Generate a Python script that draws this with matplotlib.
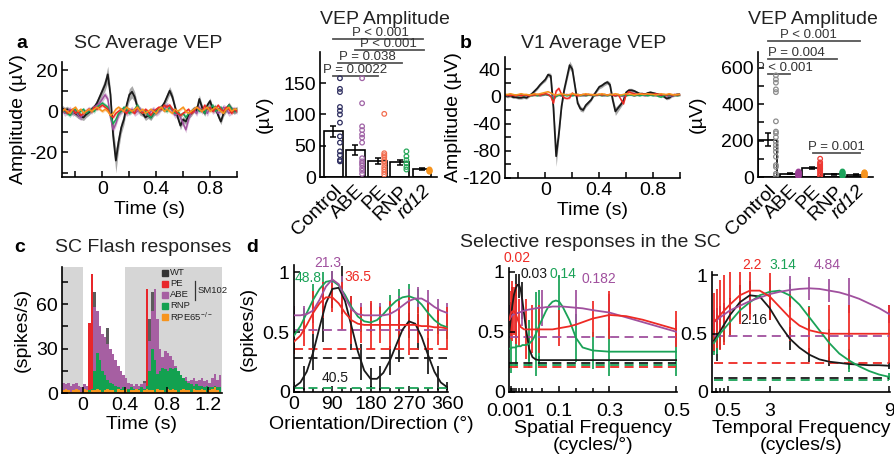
import numpy as np
import matplotlib.pyplot as plt

plt.rcParams['font.family'] = ['Liberation Sans', 'DejaVu Sans']
plt.rcParams['mathtext.fontset'] = 'custom'
plt.rcParams['mathtext.rm'] = 'Liberation Sans'
plt.rcParams['axes.unicode_minus'] = False

BLACK = '#1a1a1a'
PURPLE = '#a0509e'
RED = '#ee2a24'
GREEN = '#1aa257'
ORANGE = '#f7941d'
SIG = '#555555'

# a / b: average VEP traces (uV), one value every 20 ms from -0.3 s to 1.0 s
vep_t = np.round(np.arange(-0.3, 1.0001, 0.02), 2)

sc_black = [1.5, 0.5, 1, -0.5, 0, -1, -2, -2.5, -3, -1.5, -0.5,
            1, 2, 4, 7, 10, 13, 18, 8, -12, -24, -15,
            -8, -4, 3, 8, 9.5, 7, 2, 0, -1, -3, -2,
            -3, -1, 0, 1, 2, 4, 7, 10, 7, 2, -3,
            -7, -4, -5, -2, -1, 1, 0, 6, 2, -1, 3,
            5, 1, 2, -2, -5, -1, 1, 3, 1, 0, 1]
sc_black_sem = [1.5, 1.5, 1.5, 1.5, 1.5, 1.5, 1.5, 1.5, 1.5, 1.5, 1.5,
                1.5, 1.5, 2, 2, 2.5, 3, 4, 3, 4, 6, 4,
                3, 2.5, 2.5, 3, 3, 2.5, 2, 2, 1.5, 1.5, 1.5,
                1.5, 1.5, 1.5, 1.5, 1.5, 1.5, 2, 2, 2, 1.5, 1.5,
                2, 1.5, 1.5, 1.5, 1.5, 1.5, 1.5, 2, 1.5, 1.5, 1.5,
                1.5, 1.5, 1.5, 1.5, 1.5, 1.5, 1.5, 1.5, 1.5, 1.5, 1.5]
sc_purple = [1, -1, 0, 1, -1, 0, -2, -3, -1, 0, 1,
             0, 2, 3, 4, 6, 8, 6, -3, -9, -6, -2,
             0, 1, -1, 0, 1, -1, 0, 1, -1, 0, -2,
             0, 1, -1, 0, 2, 1, 3, 2, 0, -2, -1,
             -3, -6, -9, -4, 0, 1, -1, 2, 0, 1, -1,
             2, 0, 1, -1, 0, 2, 1, -1, 0, 1, 0]
sc_green = [1, 0, -1, -2, 0, 1, -1, 0, 1, -1, 0,
            1, 0, 2, 3, 4, 3, 2, -2, -6, -4, -1,
            0, 2, 1, -1, 0, 1, 3, 0, -1, 0, -2,
            -3, -1, 0, 1, 2, 1, 0, 2, 1, -1, 0,
            -2, -1, -3, -1, 0, 1, 2, 0, 1, -1, 2,
            1, 3, 0, 1, 2, 0, 1, 3, 1, 0, 1]
sc_red = [0, 1, -1, 0, 1, -1, 0, -2, -1, 0, 1,
          0, 2, 1, 2, 3, 2, 1, -2, -3, -1, 0,
          1, 0, -1, 1, 0, -1, 2, 0, -1, 1, 0,
          -2, 0, 1, 2, 1, 3, 2, 3, 1, 0, -1,
          -2, -1, 0, 1, -1, 0, 2, 1, 0, 3, 1,
          2, 0, 1, 3, 1, 0, 2, 1, -1, 1, 0]
sc_orange = [0, 1, 0, -1, 1, 2, 0, 1, -1, 0, 1,
             0, 1, 2, 1, 0, 1, 0, -2, -1, 1, 2,
             1, 0, 2, 1, 0, 1, 2, 0, 1, -1, 0,
             1, 0, -1, 1, 2, 0, 1, 0, -1, 1, 0,
             1, 2, 0, -1, 0, 1, 2, 1, 0, 1, 2,
             0, 1, 2, 1, 0, -1, 1, 2, 0, 1, 1]

v1_black = [1, 0, 1, -1, -1, -2, -2, -1, -2, 1, 4,
            8, 12, 17, 21, 25, 32, 30, -17, -88, -55, -15,
            10, 28, 46, 40, 15, -10, -18, -20, -13, -9, -5,
            2, 8, 14, 16, 19, 21, 17, -5, -22, -17, -12,
            -6, 6, 9, 9, 8, 6, 4, 4, 3, 5, 6,
            5, 4, 3, 2, 0, -3, -2, 1, 2, 3, 3]
v1_black_sem = [2, 2, 2, 2, 2, 2, 2, 2, 2, 2, 2,
                2, 2, 2, 2, 3, 3, 4, 6, 15, 8, 4,
                4, 5, 6, 5, 4, 4, 4, 3, 3, 3, 2,
                2, 2, 3, 3, 3, 3, 4, 5, 6, 5, 4,
                4, 3, 3, 3, 2, 2, 2, 2, 2, 2, 2,
                2, 2, 2, 2, 2, 2, 2, 2, 2, 2, 2]
v1_purple = [2, 1, 3, 2, 1, 2, 3, 2, 1, 2, 2,
             3, 2, 1, 2, 3, 2, 1, 0, 1, 2, 1,
             2, 3, 1, 2, 2, 3, 2, 1, 2, 3, 2,
             1, 2, 3, 2, 1, 2, 2, 3, 1, 2, 1,
             0, 2, 3, 2, 1, 2, 3, 2, 1, 2, 3,
             2, 1, 2, 3, 2, 1, 0, 1, 2, 3, 2]
v1_green = [1, 2, 1, 2, 2, 1, 2, 1, 2, 2, 1,
            2, 1, 2, 2, 3, 2, 1, -4, 0, 2, 1,
            2, 1, 2, 1, 2, 2, 1, 2, 1, 2, 2,
            1, 2, 2, 1, 2, 1, 2, 2, 1, 2, 1,
            2, 1, 2, 2, 1, 2, 1, 2, 2, 1, 2,
            1, 2, 0, -1, 1, 2, 1, 2, 2, 1, 2]
v1_red = [2, 2, 1, 2, 1, 2, 1, 2, 2, 1, 2,
          2, 3, 2, 3, 4, 3, 0, -10, 8, 12, 3,
          -2, -3, -2, 5, 2, 1, 2, 3, 2, 3, 2,
          3, 2, 3, 2, 3, 2, 3, 2, 1, 3, -4,
          -11, 3, 7, 5, 4, 3, 3, 4, 3, 4, 3,
          3, 4, 3, 2, 3, 2, 3, 2, 3, 2, 3]
v1_orange = [3, 3, 4, 3, 2, 3, 4, 3, 3, 2, 3,
             4, 3, 4, 5, 6, 7, 5, 3, 2, 3, 4,
             3, 2, 3, 4, 3, 3, 2, 3, 4, 3, 3,
             2, 3, 3, 4, 3, 2, 3, 3, 4, 3, 2,
             3, 4, 3, 3, 2, 3, 4, 3, 3, 4, 3,
             3, 2, 3, 4, 3, 3, 4, 3, 2, 3, 3]

# VEP amplitude bars
groups = ['Control', 'ABE', 'PE', 'RNP', 'rd12']
sc_amp_mean = [73, 44, 26, 24, 13]
sc_amp_sem = [9, 8, 5, 4, 1]
sc_amp_dots = [[158, 141, 136, 112, 106, 100, 87, 65, 55, 41, 35, 27, 25],
               [158, 118, 81, 75, 68, 63, 55, 30, 25, 22, 19, 14, 10, 5],
               [101, 38, 35, 32, 28, 25, 21, 16, 12, 8, 4],
               [41, 33, 27, 22, 16, 12],
               [13, 12, 11, 10, 9]]
sc_sig = [(0, 2, 162, 'P = 0.0022', 1.0),
          (0.2, 3.1, 182, 'P = 0.038', 1.55),
          (1, 4.1, 203, 'P < 0.001', 2.5),
          (0, 4.05, 221, 'P < 0.001', 2.15)]

v1_amp_mean = [205, 18, 50, 15, 12]
v1_amp_sem = [37, 3, 5, 3, 2]
v1_amp_dots = [[557, 535, 517, 480, 465, 305, 249, 240, 218, 194, 175, 157, 138, 111, 65, 55, 18, 9],
               [35, 30, 28, 25, 22, 20, 18, 15, 12, 10, 8, 5],
               [100, 80, 72, 65, 58, 50, 45, 38, 30, 20, 12, 5],
               [32, 28, 25, 22, 18, 15, 12, 8],
               [30, 27, 24, 20, 18, 15, 12, 10, 7, 5]]
v1_sig = [(0, 1.0, 567, 'P < 0.001', 0.75),
          (0, 3.15, 649, 'P = 0.004', 1.3),
          (0, 4.2, 743, 'P < 0.001', 1.85),
          (2.05, 4.2, 132, 'P = 0.001', 3.1)]

# c: flash PSTH (spikes/s), 25 ms bins starting at -0.2 s
hist_t = np.round(np.arange(-0.2, 1.3001, 0.025), 3)
psth_wt = [3, 2, 3, 2, 3, 2, 3, 2, 3, 2, 5,
           30, 68, 45, 30, 28, 35, 44, 20, 12, 8,
           6, 5, 4, 4, 3, 4, 3, 4, 5, 6, 8,
           10, 50, 68, 45, 25, 15, 12, 10, 10,
           8, 7, 6, 6, 5, 5, 4, 4, 4, 3, 3, 3, 3, 3, 2, 2, 2, 2, 2, 2]
psth_abe = [7, 6, 7, 5, 6, 7, 5, 4, 6, 5, 7,
            20, 58, 55, 45, 40, 38, 33, 30, 26, 22,
            18, 15, 12, 10, 7, 6, 5, 6, 5, 6, 7,
            12, 35, 55, 70, 50, 30, 24, 28, 27,
            25, 22, 18, 14, 12, 10, 11, 8, 9, 10, 8, 9, 10, 8, 9, 7, 10, 13, 9, 12]
psth_pe = [0, 0, 0, 0, 0, 0, 0, 0, 0, 0, 47,
           80, 0, 0, 0, 0, 0, 0, 0, 0, 0,
           0, 0, 0, 0, 0, 0, 0, 0, 0, 0, 0,
           70, 0, 0, 0, 0, 0, 0, 0, 0,
           0, 0, 0, 0, 0, 0, 0, 0, 0, 0, 0, 0, 0, 0, 0, 0, 0, 0, 0, 0]
psth_rnp = [2, 1, 2, 1, 2, 1, 2, 1, 2, 2, 2,
            3, 15, 27, 22, 15, 12, 9, 7, 6, 5,
            4, 3, 4, 3, 3, 4, 3, 3, 3, 4, 3,
            5, 15, 30, 22, 13, 15, 17, 16, 15,
            17, 16, 17, 15, 12, 10, 8, 7, 6, 5, 6, 5, 5, 4, 5, 4, 4, 5, 4, 4]
psth_rpe65 = [2, 3, 2, 1, 2, 3, 2, 1, 3, 2, 1,
              2, 2, 3, 2, 1, 2, 3, 2, 2, 1,
              3, 2, 2, 3, 1, 2, 2, 3, 2, 1, 2,
              3, 2, 2, 1, 3, 2, 2, 1, 3,
              2, 3, 2, 1, 2, 3, 2, 2, 1, 3, 2, 2, 3, 2, 1, 2, 3, 4, 2, 1]

# d: tuning fits (normalised spikes/s), error bars and baselines
ori_x = np.arange(0, 361, 15)
ori_fit = {
    'black': [0.04, 0.08, 0.17, 0.33, 0.54, 0.74, 0.86, 0.87, 0.76, 0.55, 0.34, 0.18, 0.11,
              0.11, 0.16, 0.26, 0.39, 0.52, 0.59, 0.57, 0.46, 0.31, 0.17, 0.08, 0.04],
    'green': [0.47, 0.55, 0.66, 0.77, 0.86, 0.92, 0.93, 0.89, 0.81, 0.71, 0.63, 0.59, 0.58,
              0.6, 0.65, 0.71, 0.76, 0.79, 0.8, 0.78, 0.73, 0.66, 0.6, 0.56, 0.54],
    'purple': [0.64, 0.64, 0.65, 0.68, 0.77, 0.88, 0.94, 0.9, 0.79, 0.69, 0.65, 0.64, 0.64,
               0.64, 0.64, 0.65, 0.68, 0.72, 0.76, 0.78, 0.78, 0.75, 0.71, 0.68, 0.66],
    'red': [0.42, 0.47, 0.56, 0.66, 0.74, 0.79, 0.79, 0.74, 0.66, 0.6, 0.57, 0.56, 0.56,
            0.56, 0.56, 0.56, 0.56, 0.56, 0.56, 0.56, 0.55, 0.55, 0.54, 0.54, 0.53],
}
ori_dirs = [0, 22.5, 45, 67.5, 90, 112.5, 135, 157.5, 180, 202.5, 225, 247.5, 270, 292.5, 315, 337.5, 360]
ori_bars = {
    'black': ([0.05, 0.12, 0.33, 0.62, 0.85, 0.85, 0.55, 0.25, 0.12, 0.12, 0.26, 0.45, 0.6, 0.5, 0.3, 0.12, 0.05],
              [0.03, 0.1, 0.15, 0.2, 0.15, 0.2, 0.2, 0.15, 0.08, 0.1, 0.12, 0.2, 0.15, 0.15, 0.15, 0.1, 0.03]),
    'green': ([0.48, 0.6, 0.78, 0.9, 0.93, 0.86, 0.7, 0.6, 0.58, 0.62, 0.71, 0.78, 0.8, 0.76, 0.66, 0.58, 0.54],
              [0.12, 0.1, 0.12, 0.1, 0.08, 0.1, 0.1, 0.1, 0.08, 0.1, 0.1, 0.08, 0.1, 0.1, 0.1, 0.1, 0.1]),
    'purple': ([0.64, 0.64, 0.68, 0.82, 0.94, 0.85, 0.69, 0.64, 0.64, 0.64, 0.65, 0.7, 0.76, 0.78, 0.75, 0.7, 0.66],
               [0.08, 0.08, 0.1, 0.1, 0.07, 0.12, 0.1, 0.1, 0.1, 0.1, 0.1, 0.1, 0.1, 0.1, 0.1, 0.08, 0.08]),
    'red': ([0.42, 0.5, 0.66, 0.77, 0.79, 0.72, 0.6, 0.56, 0.56, 0.56, 0.56, 0.56, 0.56, 0.56, 0.55, 0.54, 0.53],
            [0.1, 0.12, 0.18, 0.15, 0.12, 0.2, 0.2, 0.15, 0.2, 0.15, 0.2, 0.2, 0.25, 0.15, 0.2, 0.15, 0.18]),
}
ori_base = {'purple': 0.52, 'red': 0.36, 'black': 0.28, 'green': 0.035}
ori_peaks = [('21.3', 'purple', 79, 1.08), ('48.8', 'green', 33, 0.95),
             ('36.5', 'red', 150, 0.96), ('40.5', 'black', 96, 0.12)]

sf_x = [0.001, 0.005, 0.01, 0.015, 0.02, 0.025, 0.03, 0.035, 0.04, 0.045, 0.05,
        0.06, 0.07, 0.08, 0.09, 0.1, 0.11, 0.12, 0.13, 0.14, 0.15, 0.16,
        0.18, 0.2, 0.22, 0.25, 0.3, 0.35, 0.4, 0.45, 0.5]
sf_fit = {
    'black': [0.5, 0.6, 0.72, 0.81, 0.86, 0.89, 0.89, 0.85, 0.76, 0.65, 0.54,
              0.36, 0.29, 0.27, 0.265, 0.265, 0.265, 0.265, 0.265, 0.265, 0.265, 0.265,
              0.265, 0.265, 0.265, 0.265, 0.265, 0.265, 0.265, 0.265, 0.265],
    'red': [0.6, 0.65, 0.67, 0.67, 0.65, 0.61, 0.57, 0.54, 0.53, 0.52, 0.52,
            0.52, 0.52, 0.52, 0.52, 0.52, 0.52, 0.52, 0.52, 0.525, 0.53, 0.535,
            0.545, 0.56, 0.58, 0.61, 0.64, 0.63, 0.6, 0.56, 0.52],
    'green': [0.36, 0.36, 0.37, 0.37, 0.37, 0.38, 0.38, 0.38, 0.39, 0.39, 0.39,
              0.4, 0.43, 0.48, 0.55, 0.61, 0.67, 0.72, 0.75, 0.76, 0.75, 0.71,
              0.6, 0.45, 0.37, 0.345, 0.335, 0.335, 0.335, 0.335, 0.335],
    'purple': [0.6, 0.62, 0.64, 0.645, 0.65, 0.655, 0.66, 0.665, 0.67, 0.675, 0.68,
               0.685, 0.69, 0.695, 0.7, 0.7, 0.705, 0.705, 0.71, 0.71, 0.71, 0.71,
               0.705, 0.7, 0.695, 0.68, 0.66, 0.62, 0.58, 0.54, 0.5],
}
sf_bars = {
    'black': ([0.005, 0.01, 0.02, 0.03, 0.04, 0.06, 0.09],
              [0.6, 0.72, 0.86, 0.88, 0.76, 0.36, 0.26],
              [0.15, 0.15, 0.12, 0.1, 0.15, 0.1, 0.04]),
    'red': ([0.005, 0.01, 0.015, 0.02, 0.03, 0.05, 0.07, 0.09, 0.15, 0.25, 0.3, 0.5],
            [0.64, 0.67, 0.67, 0.65, 0.57, 0.52, 0.52, 0.52, 0.53, 0.61, 0.64, 0.52],
            [0.2, 0.25, 0.2, 0.25, 0.2, 0.25, 0.2, 0.2, 0.15, 0.15, 0.2, 0.15]),
    'green': ([0.005, 0.02, 0.06, 0.08, 0.09, 0.15, 0.2, 0.25, 0.3, 0.5],
              [0.36, 0.37, 0.4, 0.48, 0.55, 0.75, 0.45, 0.345, 0.335, 0.335],
              [0.2, 0.15, 0.2, 0.35, 0.3, 0.22, 0.2, 0.15, 0.2, 0.2]),
    'purple': ([0.002, 0.01, 0.02, 0.04, 0.1, 0.2, 0.3, 0.5],
               [0.62, 0.64, 0.65, 0.67, 0.7, 0.7, 0.66, 0.5],
               [0.1, 0.15, 0.15, 0.12, 0.15, 0.15, 0.15, 0.1]),
}
sf_base = {'purple': 0.46, 'black': 0.24, 'green': 0.225, 'red': 0.21}
sf_peaks = [('0.02', 'red', 0.024, 1.11), ('0.03', 'black', 0.074, 0.98),
            ('0.14', 'green', 0.16, 0.98), ('0.182', 'purple', 0.27, 0.94)]

tf_x = [0.2, 0.5, 1, 1.5, 2, 2.5, 3, 3.5, 4, 4.5, 5, 5.5, 6, 6.5, 7, 7.5, 8, 8.5, 9]
tf_fit = {
    'black': [0.44, 0.52, 0.66, 0.77, 0.83, 0.82, 0.72, 0.58, 0.46, 0.38, 0.32, 0.28, 0.26,
              0.25, 0.24, 0.235, 0.23, 0.23, 0.225],
    'red': [0.6, 0.66, 0.75, 0.83, 0.87, 0.87, 0.82, 0.73, 0.64, 0.57, 0.53, 0.51, 0.5,
            0.5, 0.5, 0.5, 0.5, 0.5, 0.5],
    'green': [0.42, 0.5, 0.6, 0.7, 0.77, 0.83, 0.86, 0.87, 0.83, 0.75, 0.64, 0.53, 0.42,
              0.33, 0.27, 0.22, 0.18, 0.15, 0.13],
    'purple': [0.6, 0.64, 0.7, 0.74, 0.78, 0.81, 0.84, 0.86, 0.875, 0.885, 0.89, 0.885, 0.87,
               0.855, 0.83, 0.8, 0.76, 0.72, 0.67],
}
tf_points = [0.2, 0.35, 0.5, 0.7, 1, 1.5, 2, 3, 4, 5, 6, 7, 9]
tf_bars = {
    'red': ([0.6, 0.63, 0.66, 0.7, 0.75, 0.83, 0.87, 0.82, 0.64, 0.53, 0.5, 0.5, 0.5],
            [0.25, 0.25, 0.3, 0.3, 0.28, 0.25, 0.25, 0.2, 0.2, 0.2, 0.25, 0.25, 0.25]),
    'black': ([0.44, 0.47, 0.52, 0.58, 0.66, 0.77, 0.83, 0.72, 0.46, 0.32, 0.26, 0.24, 0.225],
              [0.1, 0.2, 0.15, 0.15, 0.15, 0.15, 0.12, 0.1, 0.1, 0.06, 0.04, 0.04, 0.03]),
    'green': ([0.42, 0.45, 0.5, 0.55, 0.6, 0.7, 0.77, 0.86, 0.83, 0.64, 0.42, 0.27, 0.13],
              [0.1, 0.12, 0.1, 0.12, 0.12, 0.1, 0.1, 0.1, 0.1, 0.1, 0.12, 0.1, 0.03]),
    'purple': ([0.6, 0.62, 0.64, 0.66, 0.7, 0.74, 0.78, 0.84, 0.875, 0.89, 0.87, 0.83, 0.67],
               [0.1, 0.1, 0.1, 0.1, 0.1, 0.1, 0.1, 0.1, 0.12, 0.1, 0.1, 0.15, 0.08]),
}
tf_base = {'purple': 0.48, 'red': 0.25, 'black': 0.12, 'green': 0.1}
tf_peaks = [('2.2', 'red', 2.1, 1.09), ('3.14', 'green', 3.65, 1.09),
            ('4.84', 'purple', 5.9, 1.09), ('2.16', 'black', 2.2, 0.62)]

COLORS = {'black': BLACK, 'red': RED, 'green': GREEN, 'purple': PURPLE}
TICK_SIZE = 14
LABEL_SIZE = 14


def rect(x0, y0, x1, y1):
    return [x0 / 895, 1 - y1 / 458, (x1 - x0) / 895, (y1 - y0) / 458]


def style(ax):
    for s in ['top', 'right']:
        ax.spines[s].set_visible(False)
    for s in ['left', 'bottom']:
        ax.spines[s].set_linewidth(1.2)
    ax.tick_params(which='both', direction='in', length=4, width=1.1, labelsize=TICK_SIZE, pad=3)


def draw_vep(ax, black, black_sem, others):
    black = np.array(black)
    sem = np.array(black_sem)
    ax.fill_between(vep_t, black - sem, black + sem, color='#9a9a9a', alpha=0.85, lw=0)
    ax.plot(vep_t, black, color=BLACK, lw=1.3)
    for vals, color, s in others:
        vals = np.array(vals)
        ax.fill_between(vep_t, vals - s, vals + s, color=color, alpha=0.35, lw=0)
        ax.plot(vep_t, vals, color=color, lw=1.1)
    ax.set_xlim(-0.3, 1.0)
    ax.set_xticks([0, 0.4, 0.8])
    ax.set_xticklabels(['0', '0.4', '0.8'])
    ax.set_xticks([-0.2, 0.2, 0.6, 1.0], minor=True)
    ax.set_xlabel('Time (s)', fontsize=LABEL_SIZE, labelpad=2)
    style(ax)


def draw_amp(ax, means, sems, dots, dot_styles, offset, sig):
    pos = np.arange(len(groups))
    ax.bar(pos, means, width=0.85, color='white', edgecolor='black', lw=1.2, zorder=1)
    ax.errorbar(pos, means, yerr=sems, fmt='none', ecolor='black', elinewidth=1.1,
                capsize=2.5, capthick=1.1, zorder=2)
    for i, (vals, (color, filled)) in enumerate(zip(dots, dot_styles)):
        ax.scatter(np.full(len(vals), i + offset), vals, s=11, lw=0.9, zorder=3,
                   facecolors=color if filled else 'none', edgecolors=color)
    for x0, x1, y, txt, tx in sig:
        ax.plot([x0, x1], [y, y], color=SIG, lw=1.3, clip_on=False)
        ax.text(tx, y, txt, ha='center', va='bottom', fontsize=9.5, color='#333333', clip_on=False)
    ax.set_xticks(pos)
    labels = ax.set_xticklabels(groups, rotation=45, ha='right', rotation_mode='anchor')
    labels[-1].set_style('italic')
    ax.set_ylabel('(µV)', fontsize=LABEL_SIZE)
    style(ax)
    ax.tick_params(axis='x', length=0, pad=4)


def draw_tuning(ax, x, fits, bars, bar_x, base, peaks, xmin, xmax):
    for name in ['black', 'green', 'purple', 'red']:
        mean, err = bars[name][-2], bars[name][-1]
        bx = bars[name][0] if len(bars[name]) == 3 else bar_x
        ax.vlines(bx, np.array(mean) - np.array(err), np.array(mean) + np.array(err),
                  color=COLORS[name], lw=1.4, alpha=0.9, zorder=1)
    for name in ['green', 'black', 'purple', 'red']:
        ax.hlines(base[name], xmin, xmax, color=COLORS[name], lw=1.3, linestyles=(0, (5, 3)), zorder=2)
    for name in ['black', 'green', 'purple', 'red']:
        ax.plot(x, fits[name], color=COLORS[name], lw=1.3, zorder=3)
    for txt, name, px, py in peaks:
        ax.text(px, py, txt, color=COLORS[name], fontsize=10, ha='center', va='center', clip_on=False)
    ax.set_yticks([0, 0.5, 1])
    ax.set_yticklabels(['0', '0.5', '1'])
    style(ax)


fig = plt.figure(figsize=(8.95, 4.58), dpi=100)

# a: SC VEP
ax = fig.add_axes(rect(62, 62, 237, 177))
draw_vep(ax, sc_black, sc_black_sem,
         [(sc_purple, PURPLE, 1.5), (sc_green, GREEN, 1.0), (sc_red, RED, 0.8), (sc_orange, ORANGE, 0.8)])
ax.set_ylim(-32, 24)
ax.set_yticks([-20, 0, 20])
ax.set_yticks([-30, -10, 10], minor=True)
ax.set_ylabel('Amplitude (µV)', fontsize=LABEL_SIZE)
ax.yaxis.set_label_coords(-0.2, 0.5)

ax = fig.add_axes(rect(320, 52, 437, 177))
draw_amp(ax, sc_amp_mean, sc_amp_sem, sc_amp_dots,
         [('#2d2d5f', False), ('#a064a6', False), ('#f26d4f', False), ('#27a85a', False), (ORANGE, True)],
         0.3, sc_sig)
ax.set_xlim(-0.6, 4.68)
ax.set_ylim(0, 200)
ax.set_yticks([0, 50, 100, 150])
ax.yaxis.set_label_coords(-0.4, 0.5)

# b: V1 VEP
ax = fig.add_axes(rect(505, 57, 680, 178))
draw_vep(ax, v1_black, v1_black_sem,
         [(v1_purple, PURPLE, 1.0), (v1_green, GREEN, 1.0), (v1_red, RED, 1.5), (v1_orange, ORANGE, 1.0)])
ax.set_ylim(-116, 58)
ax.set_yticks([-120, -80, -40, 0, 40])
ax.set_yticks([-100, -60, -20, 20], minor=True)
ax.set_ylabel('Amplitude (µV)', fontsize=LABEL_SIZE)
ax.yaxis.set_label_coords(-0.245, 0.5)

ax = fig.add_axes(rect(758, 52, 873, 177))
draw_amp(ax, v1_amp_mean, v1_amp_sem, v1_amp_dots,
         [('#8c8c8c', False), ('#9b3d96', True), ('#ee3a34', False), ('#1aa25a', True), (ORANGE, True)],
         0.38, v1_sig)
ax.set_xlim(-0.43, 4.77)
ax.set_ylim(0, 685)
ax.set_yticks([0, 200, 400, 600])
ax.set_yticks([100, 300, 500], minor=True)
ax.yaxis.set_label_coords(-0.45, 0.5)

# c: flash responses
ax = fig.add_axes(rect(62, 267, 222, 393))
ax.axvspan(-0.2, 0, color='#d6d6d6', lw=0, zorder=0)
ax.axvspan(0.4, 1.33, color='#d6d6d6', lw=0, zorder=0)
for vals, color in [(psth_wt, '#5c5c5c'), (psth_abe, '#a65fa2'), (psth_pe, '#e8262a'),
                    (psth_rnp, '#13a150'), (psth_rpe65, ORANGE)]:
    ax.bar(hist_t, vals, width=0.025, align='edge', color=color, lw=0)
ax.set_xlim(-0.2, 1.33)
ax.set_ylim(0, 85)
ax.set_xticks([0, 0.4, 0.8, 1.2])
ax.set_xticklabels(['0', '0.4', '0.8', '1.2'])
ax.set_yticks([0, 30, 60])
ax.set_yticks([15, 45, 75], minor=True)
ax.set_xlabel('Time (s)', fontsize=LABEL_SIZE, labelpad=1)
ax.set_ylabel('(spikes/s)', fontsize=LABEL_SIZE)
style(ax)
legend_items = [('WT', '#333333'), ('PE', '#e8262a'), ('ABE', '#a65fa2'), ('RNP', '#13a150'),
                ('RPE65$^{-/-}$', ORANGE)]
for k, (name, color) in enumerate(legend_items):
    yy = 0.955 - 0.087 * k
    ax.plot([0.645], [yy], marker='s', ms=5, color=color, transform=ax.transAxes, clip_on=False)
    ax.text(0.675, yy, name, fontsize=6.8, va='center', ha='left', transform=ax.transAxes, color='#222222')
ax.plot([0.83, 0.83], [0.74, 0.89], color='#333333', lw=0.9, transform=ax.transAxes)
ax.text(0.845, 0.815, 'SM102', fontsize=6.8, va='center', ha='left', transform=ax.transAxes, color='#222222')

# d: tuning
ax = fig.add_axes(rect(294, 265, 448, 392))
draw_tuning(ax, ori_x, ori_fit, ori_bars, ori_dirs, ori_base, ori_peaks, 0, 360)
ax.set_xlim(0, 362)
ax.set_ylim(0, 1.06)
ax.set_xticks([0, 90, 180, 270, 360])
ax.set_xticks(ori_dirs, minor=True)
ax.tick_params(which='minor', length=3)
ax.set_xlabel('Orientation/Direction (°)', fontsize=LABEL_SIZE, labelpad=2)
ax.set_ylabel('(spikes/s)', fontsize=LABEL_SIZE)

ax = fig.add_axes(rect(509, 268, 677, 392))
draw_tuning(ax, sf_x, sf_fit, sf_bars, None, sf_base, sf_peaks, 0.001, 0.5)
ax.set_xlim(0, 0.502)
ax.set_ylim(0, 1.03)
ax.set_xticks([0.006, 0.15, 0.3, 0.5])
ax.set_xticklabels(['0.001', '0.1', '0.3', '0.5'])
ax.set_xticks([0.005, 0.01, 0.015, 0.02, 0.03, 0.04, 0.05, 0.07, 0.1, 0.2, 0.25], minor=True)
ax.tick_params(which='minor', length=3)
ax.tick_params(axis='x', pad=8)
ax.set_xlabel('Spatial Frequency\n(cycles/°)', fontsize=LABEL_SIZE, linespacing=1.0, labelpad=0)

ax = fig.add_axes(rect(712, 272, 890, 392))
draw_tuning(ax, tf_x, tf_fit, tf_bars, tf_points, tf_base, tf_peaks, 0.2, 9)
ax.set_xlim(0.1, 9.05)
ax.set_ylim(0, 1.03)
ax.set_xticks([0.9, 3, 9])
ax.set_xticklabels(['0.5', '3', '9'])
ax.set_xticks([0.3, 0.5, 0.7], minor=True)
ax.tick_params(which='minor', length=3)
ax.tick_params(axis='x', pad=8)
ax.set_xlabel('Temporal Frequency\n(cycles/s)', fontsize=LABEL_SIZE, linespacing=1.0, labelpad=0)

# titles and panel letters
for x, y, txt in [(148, 43, 'SC Average VEP'), (594, 43, 'V1 Average VEP'),
                  (385, 20, 'VEP Amplitude'), (813, 20, 'VEP Amplitude'),
                  (143, 247, 'SC Flash responses'), (590, 243, 'Selective responses in the SC')]:
    fig.text(x / 895, 1 - y / 458, txt, fontsize=14, ha='center', va='center', color='#222222')
for x, y, txt in [(22, 43, 'a'), (466, 43, 'b'), (20, 247, 'c'), (252, 247, 'd')]:
    fig.text(x / 895, 1 - y / 458, txt, fontsize=14, fontweight='bold', ha='center', va='center')

fig.savefig('out.png', dpi=100)
